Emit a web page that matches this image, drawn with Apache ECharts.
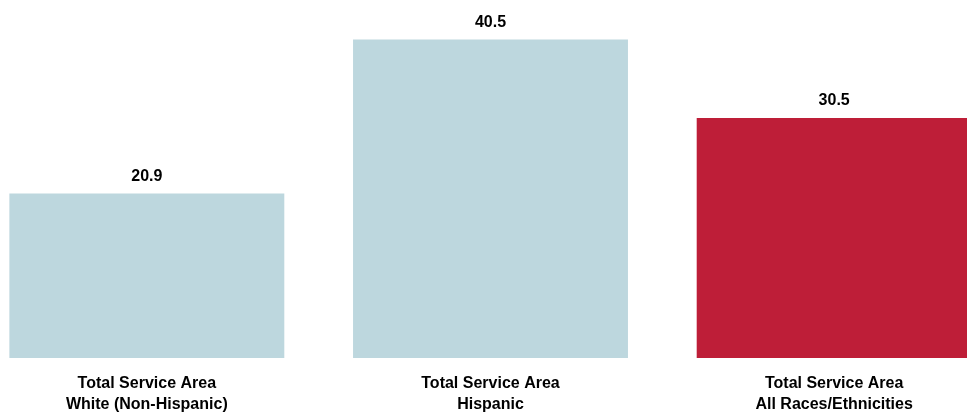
<!DOCTYPE html>
<html>
<head>
<meta charset="utf-8">
<script src="https://cdn.jsdelivr.net/npm/echarts@6/dist/echarts.min.js"></script>
<style>html,body{margin:0;padding:0;background:#fff;overflow:hidden;width:967px;height:417px;position:relative;}#c{position:absolute;left:-25px;top:0;width:1031px;height:417px;}</style>
</head>
<body>
<div id="c"></div>
<script>
const categories = ["Total Service Area\nWhite (Non-Hispanic)", "Total Service Area\nHispanic", "Total Service Area\nAll Races/Ethnicities"];
const values = [20.9, 40.5, 30.5];
const barColors = ["#BDD7DE", "#BDD7DE", "#BE1E38"];

const chart = echarts.init(document.getElementById('c'), null, {renderer: 'canvas'});
const font = "'Liberation Sans Narrow', 'Arial Narrow', 'Liberation Sans', Arial, sans-serif";
chart.setOption({
  animation: false,
  backgroundColor: '#fff',
  grid: {left: 0, right: 0, top: 4, bottom: 59, containLabel: false},
  xAxis: {
    type: 'category',
    data: categories,
    axisLine: {show: false},
    axisTick: {show: false},
    axisLabel: {
      interval: 0,
      margin: 15,
      color: '#000',
      fontFamily: font,
      fontWeight: 'bold',
      fontSize: 16,
      lineHeight: 21
    }
  },
  yAxis: {
    type: 'value',
    min: 0,
    max: 45,
    show: false,
    splitLine: {show: false}
  },
  series: [{
    type: 'bar',
    data: values.map((v, i) => ({value: v, itemStyle: {color: barColors[i]}})),
    barCategoryGap: '20%',
    label: {
      show: true,
      position: 'top',
      distance: 9,
      color: '#000',
      fontFamily: font,
      fontWeight: 'bold',
      fontSize: 16,
      formatter: p => p.value.toFixed(1)
    }
  }]
});
</script>
</body>
</html>
